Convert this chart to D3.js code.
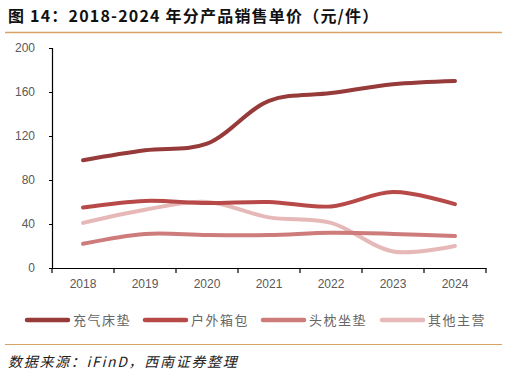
<!DOCTYPE html>
<html><head><meta charset="utf-8">
<script src="https://cdn.jsdelivr.net/npm/d3@7"></script>
<style>body{margin:0;background:#fff;} svg{display:block;}</style>
</head><body>
<svg id="c" width="507" height="376"></svg>
<script>
const years = ["2018","2019","2020","2021","2022","2023","2024"];
const seriesNames = ["充气床垫","户外箱包","头枕坐垫","其他主营"];
const mattress = [98, 107, 113, 152, 159, 167, 170];
const outdoorBags = [55, 61, 59, 60, 56, 69, 58];
const cushions = [22, 31, 30, 30, 32, 31, 29];
const others = [41, 53, 60, 46, 41, 15, 20];
const yTicks = [0, 40, 80, 120, 160, 200];
const colors = ["#973a3a", "#b74a49", "#cd7c7b", "#e6b9b8"];
const allSeries = [mattress, outdoorBags, cushions, others];

const svg = d3.select("#c");
const font = "'Noto Sans CJK SC', 'Liberation Sans', sans-serif";

svg.append("text").attr("x", 8).attr("y", 22)
  .attr("font-family", font).attr("font-weight", "bold").attr("font-size", 16)
  .attr("letter-spacing", 1.2)
  .attr("fill", "#111").text("图 14：2018-2024 年分产品销售单价（元/件）");
svg.append("line").attr("x1", 5).attr("x2", 502).attr("y1", 32.5).attr("y2", 32.5)
  .attr("stroke", "#d7a466").attr("stroke-width", 1.5);

const x = d3.scaleBand().domain(years).range([52, 486]);
const y = d3.scaleLinear().domain([0, 200]).range([268, 48]);

const yAxis = svg.append("g").attr("transform", "translate(52,0)")
  .call(d3.axisLeft(y).tickValues(yTicks).tickSize(3).tickPadding(14));
yAxis.select(".domain").attr("stroke", "#000").attr("stroke-width", 1.2);
yAxis.selectAll(".tick line").attr("stroke", "#000");
yAxis.selectAll("text").attr("font-family", "'Liberation Sans', Arial, sans-serif")
  .attr("font-size", 12).attr("fill", "#595959");

const xAxis = svg.append("g").attr("transform", "translate(0,268)")
  .call(d3.axisBottom(x).tickSize(0).tickPadding(11));
xAxis.select(".domain").attr("stroke", "#000").attr("stroke-width", 1.2);
xAxis.selectAll("text").attr("font-family", "'Liberation Sans', Arial, sans-serif")
  .attr("font-size", 12).attr("fill", "#595959");
const bounds = years.map(d => x(d)).concat([x.range()[1]]);
svg.append("g").selectAll("line").data(bounds).join("line")
  .attr("x1", d => d).attr("x2", d => d).attr("y1", 268).attr("y2", 273)
  .attr("stroke", "#000").attr("stroke-width", 1.2);

const line = d3.line()
  .x((d, i) => x(years[i]) + x.bandwidth() / 2)
  .y(d => y(d))
  .curve(d3.curveCatmullRom.alpha(0.5));

[3, 2, 1, 0].forEach(k => {
  svg.append("path").datum(allSeries[k]).attr("d", line)
    .attr("fill", "none").attr("stroke", colors[k]).attr("stroke-width", 4)
    .attr("stroke-linecap", "round").attr("stroke-linejoin", "round");
});

const legendX = [27, 145, 263, 382];
const lg = svg.append("g");
seriesNames.forEach((n, i) => {
  lg.append("line").attr("x1", legendX[i]).attr("x2", legendX[i] + 41)
    .attr("y1", 320).attr("y2", 320).attr("stroke", colors[i]).attr("stroke-width", 4.5)
    .attr("stroke-linecap", "round");
  lg.append("text").attr("x", legendX[i] + 46).attr("y", 325)
    .attr("font-family", font).attr("font-size", 13).attr("letter-spacing", 1.5)
    .attr("fill", "#666").text(n);
});

svg.append("line").attr("x1", 5).attr("x2", 502).attr("y1", 344.5).attr("y2", 344.5)
  .attr("stroke", "#d7a466").attr("stroke-width", 1.2);
svg.append("text").attr("x", 8).attr("y", 367)
  .attr("font-family", font).attr("font-style", "italic").attr("font-size", 14)
  .attr("letter-spacing", 1.7)
  .attr("fill", "#222").text("数据来源：iFinD，西南证券整理");
</script>
</body></html>
